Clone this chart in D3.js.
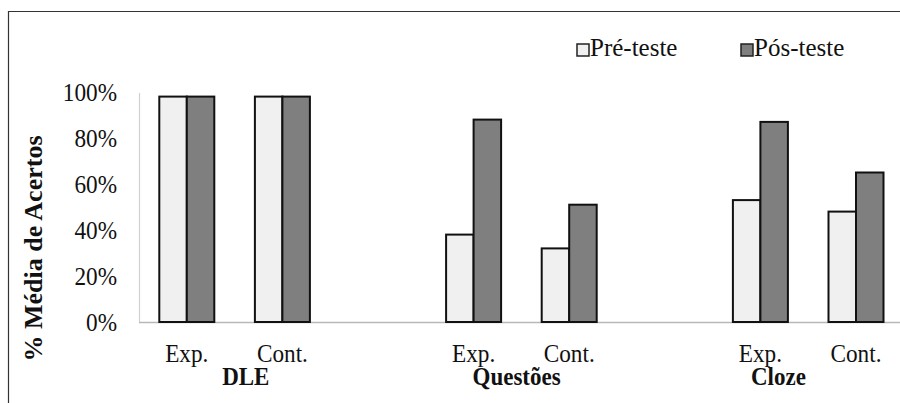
<!DOCTYPE html>
<html><head><meta charset="utf-8">
<script src="https://cdn.jsdelivr.net/npm/d3@7"></script>
<style>body{margin:0;background:#fff}svg{display:block}svg text{font-family:"Liberation Serif","Times New Roman","DejaVu Serif",serif !important}</style>
</head><body><svg id="c" width="900" height="403"></svg>
<script>
// ---- data ----
const slots = ["DLE|Exp.","DLE|Cont.","gap1","Questões|Exp.","Questões|Cont.","gap2","Cloze|Exp.","Cloze|Cont."];
const groups = ["DLE","Questões","Cloze"];
const subLabels = ["Exp.","Cont."];
const seriesNames = ["Pré-teste","Pós-teste"];
const preValues  = [98, 98, 38, 32, 53, 48];
const postValues = [98, 98, 88, 51, 87, 65];
const yTicks = [0, 20, 40, 60, 80, 100];
const yTitle = "% Média de Acertos";

// ---- layout ----
const svg = d3.select("#c");
const x0 = 139, y0 = 322, yTop = 92;
const x = d3.scaleBand().domain(slots).range([x0, x0 + 8*95.6]).paddingInner(0).paddingOuter(0);
const y = d3.scaleLinear().domain([0,100]).range([y0, yTop]);
const colors = ["#f0f0f0", "#7f7f7f"];
const barW = 27.5;

// frame (left & top visible)
svg.append("path").attr("d","M8.5,403 V11.5 H900").attr("fill","none").attr("stroke","#333").attr("stroke-width",1.2);

// axes lines
svg.append("line").attr("x1",x0).attr("x2",900).attr("y1",y0+0.5).attr("y2",y0+0.5).attr("stroke","#b8b8b8").attr("stroke-width",1.5);
svg.append("line").attr("x1",x0+0.5).attr("x2",x0+0.5).attr("y1",y(100)+1).attr("y2",y0).attr("stroke","#d0d0d0").attr("stroke-width",1.2);

// y tick labels
const yAxis = d3.axisLeft(y).tickValues(yTicks).tickFormat(d => d + "%").tickSize(0).tickPadding(0);
const yg = svg.append("g").attr("transform",`translate(117,0)`).call(yAxis);
yg.attr("font-family",null);
yg.select(".domain").remove();
yg.selectAll("text").attr("font-size",25).attr("fill","#111")
  .attr("dy","0.34em").attr("transform","scale(0.93,1)");

// y title
svg.append("text").attr("transform","translate(42,248.5) rotate(-90)").attr("text-anchor","middle")
  .attr("font-size",26).attr("font-weight","bold").attr("fill","#111").text(yTitle);

// bars
const dataSlots = slots.filter(s => !s.startsWith("gap"));
dataSlots.forEach((s,i) => {
  const cx = x(s) + x.bandwidth()/2;
  [preValues[i], postValues[i]].forEach((v,k) => {
    svg.append("rect").attr("x", cx - barW + k*barW).attr("y", y(v)).attr("width", barW).attr("height", y0 - y(v))
      .attr("fill", colors[k]).attr("stroke","#111").attr("stroke-width",2);
  });
  const sub = s.split("|")[1];
  svg.append("g").attr("transform",`translate(${cx},362) scale(0.93,1)`)
    .append("text").attr("text-anchor","middle").attr("font-size",25).attr("fill","#111").text(sub);
});

// group labels (offset as in the reference)
const groupOffset = [59, 43, 18];
groups.forEach((g,i) => {
  const cx = x(g + "|Exp.") + x.bandwidth()/2 + groupOffset[i];
  svg.append("g").attr("transform",`translate(${cx},385) scale(0.92,1)`)
    .append("text").attr("text-anchor","middle").attr("font-size",25).attr("font-weight","bold").attr("fill","#111").text(g);
});

// legend
const legX = [577, 741];
seriesNames.forEach((n,k) => {
  svg.append("rect").attr("x",legX[k]).attr("y",44).attr("width",12).attr("height",12)
    .attr("fill",colors[k]).attr("stroke","#222").attr("stroke-width",1.5);
  svg.append("text").attr("x",legX[k]+13).attr("y",56).attr("font-size",25).attr("fill","#111").text(n);
});
</script></body></html>
